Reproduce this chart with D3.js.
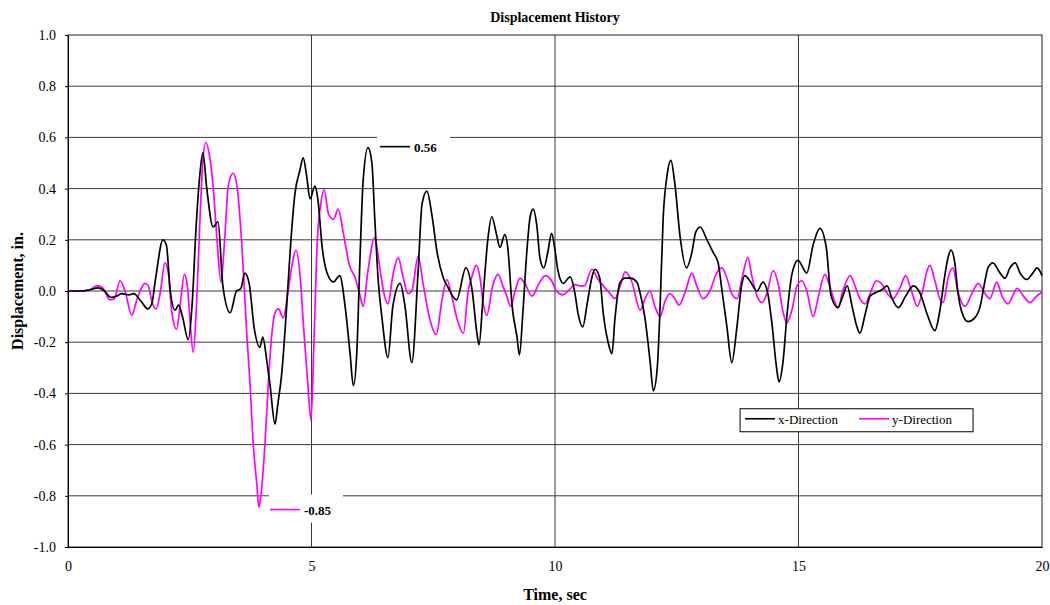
<!DOCTYPE html>
<html>
<head>
<meta charset="utf-8">
<script src="https://cdn.jsdelivr.net/npm/d3@7"></script>
<style>
  body { margin: 0; background: #fff; }
  svg text { font-family: "Liberation Serif", "Times New Roman", serif; }
</style>
</head>
<body>
<svg class="canvas"></svg>
<script>
// x-Direction (black) - time (sec) and displacement (in.)
const xTime = [0, 0.3, 0.45, 0.62, 0.75, 0.88, 1.0, 1.1, 1.25, 1.35, 1.5, 1.64, 1.72, 1.8, 1.95, 2.02, 2.1, 2.2, 2.27, 2.35, 2.47, 2.55, 2.63, 2.71, 2.77, 2.85, 2.98, 3.08, 3.18, 3.33, 3.46, 3.55, 3.63, 3.72, 3.82, 3.94, 4.0, 4.08, 4.15, 4.25, 4.31, 4.39, 4.49, 4.56, 4.66, 4.76, 4.83, 4.9, 4.97, 5.07, 5.13, 5.22, 5.32, 5.45, 5.58, 5.69, 5.79, 5.86, 5.93, 6.0, 6.06, 6.16, 6.24, 6.3, 6.37, 6.45, 6.57, 6.67, 6.82, 6.92, 7.06, 7.19, 7.27, 7.37, 7.47, 7.58, 7.7, 7.8, 7.98, 8.17, 8.3, 8.4, 8.44, 8.52, 8.62, 8.7, 8.8, 8.87, 8.97, 9.03, 9.12, 9.22, 9.27, 9.34, 9.42, 9.49, 9.55, 9.63, 9.69, 9.77, 9.86, 9.93, 10.0, 10.06, 10.17, 10.31, 10.41, 10.47, 10.57, 10.66, 10.76, 10.82, 10.92, 10.99, 11.09, 11.17, 11.23, 11.33, 11.44, 11.55, 11.68, 11.75, 11.85, 11.95, 12.02, 12.1, 12.16, 12.22, 12.3, 12.38, 12.46, 12.57, 12.7, 12.81, 12.89, 12.98, 13.12, 13.25, 13.35, 13.43, 13.53, 13.63, 13.73, 13.83, 13.9, 14.0, 14.15, 14.27, 14.37, 14.45, 14.55, 14.6, 14.68, 14.77, 14.87, 14.99, 15.17, 15.3, 15.44, 15.57, 15.67, 15.81, 15.91, 16.0, 16.1, 16.2, 16.26, 16.37, 16.47, 16.6, 16.71, 16.82, 16.92, 17.05, 17.2, 17.36, 17.5, 17.64, 17.8, 17.9, 18.0, 18.07, 18.13, 18.21, 18.27, 18.35, 18.48, 18.62, 18.73, 18.83, 18.89, 18.99, 19.14, 19.24, 19.34, 19.45, 19.55, 19.69, 19.81, 19.9, 20.0];
const xDisp = [0, 0, 0.005, 0.012, 0, -0.025, -0.02, -0.01, -0.015, -0.01, -0.04, -0.07, -0.05, 0.05, 0.2, 0.18, 0, -0.075, -0.055, -0.1, -0.19, -0.05, 0.25, 0.46, 0.54, 0.4, 0.25, 0.27, 0.02, -0.085, 0, 0.01, 0.07, 0.03, -0.14, -0.22, -0.18, -0.27, -0.37, -0.52, -0.44, -0.32, -0.06, 0.15, 0.38, 0.47, 0.52, 0.45, 0.36, 0.41, 0.36, 0.17, 0.07, 0.035, 0.06, -0.06, -0.24, -0.37, -0.24, 0.15, 0.43, 0.56, 0.5, 0.28, 0.04, -0.11, -0.26, -0.06, 0.03, -0.06, -0.28, 0.08, 0.34, 0.39, 0.3, 0.15, 0.055, 0.015, -0.035, 0.09, 0, -0.17, -0.21, -0.03, 0.2, 0.29, 0.22, 0.17, 0.22, 0.17, -0.06, -0.18, -0.25, -0.085, 0.15, 0.29, 0.32, 0.25, 0.13, 0.09, 0.16, 0.225, 0.16, 0.08, 0.03, 0.055, -0.01, -0.085, -0.14, -0.05, 0.055, 0.085, 0.05, -0.085, -0.2, -0.245, -0.11, 0.03, 0.05, 0.05, 0.035, -0.01, -0.11, -0.27, -0.39, -0.3, -0.05, 0.28, 0.45, 0.51, 0.42, 0.21, 0.09, 0.15, 0.23, 0.25, 0.2, 0.15, 0.11, 0, -0.14, -0.28, -0.15, 0.02, 0.06, 0.04, 0, 0.035, -0.01, -0.12, -0.3, -0.355, -0.28, -0.08, 0.07, 0.12, 0.07, 0.18, 0.245, 0.17, -0.02, -0.065, -0.02, 0.02, -0.06, -0.14, -0.165, -0.09, -0.02, -0.005, 0.005, 0.02, -0.03, -0.065, -0.02, 0.02, -0.01, -0.09, -0.155, -0.08, 0.055, 0.13, 0.16, 0.11, 0, -0.08, -0.12, -0.105, -0.06, 0.04, 0.09, 0.11, 0.07, 0.05, 0.09, 0.11, 0.07, 0.045, 0.07, 0.09, 0.06];

// y-Direction (magenta)
const yTime = [0, 0.3, 0.45, 0.6, 0.7, 0.86, 0.95, 1.07, 1.17, 1.31, 1.42, 1.58, 1.65, 1.72, 1.81, 1.9, 1.99, 2.06, 2.13, 2.23, 2.3, 2.39, 2.45, 2.5, 2.57, 2.64, 2.71, 2.77, 2.83, 2.92, 2.98, 3.06, 3.14, 3.22, 3.29, 3.39, 3.47, 3.57, 3.67, 3.74, 3.8, 3.88, 3.92, 3.96, 4.05, 4.11, 4.19, 4.25, 4.32, 4.42, 4.52, 4.6, 4.68, 4.77, 4.84, 4.92, 4.99, 5.05, 5.12, 5.19, 5.26, 5.35, 5.45, 5.55, 5.65, 5.78, 5.9, 6.0, 6.06, 6.16, 6.3, 6.38, 6.5, 6.57, 6.67, 6.78, 6.88, 6.98, 7.06, 7.19, 7.29, 7.43, 7.56, 7.68, 7.78, 7.88, 7.99, 8.12, 8.21, 8.3, 8.38, 8.47, 8.52, 8.6, 8.72, 8.83, 8.93, 9.0, 9.09, 9.18, 9.28, 9.39, 9.53, 9.66, 9.8, 9.93, 10.03, 10.16, 10.27, 10.41, 10.52, 10.6, 10.76, 10.87, 10.99, 11.13, 11.23, 11.34, 11.44, 11.57, 11.75, 11.85, 11.95, 12.05, 12.16, 12.26, 12.36, 12.46, 12.55, 12.68, 12.81, 12.91, 13.04, 13.18, 13.32, 13.43, 13.53, 13.63, 13.74, 13.84, 13.96, 14.04, 14.15, 14.25, 14.35, 14.48, 14.58, 14.68, 14.76, 14.87, 14.97, 15.07, 15.17, 15.3, 15.4, 15.54, 15.64, 15.74, 15.81, 15.91, 16.06, 16.16, 16.26, 16.37, 16.47, 16.6, 16.7, 16.82, 16.94, 17.08, 17.2, 17.32, 17.44, 17.56, 17.64, 17.7, 17.8, 17.9, 17.97, 18.07, 18.17, 18.27, 18.42, 18.56, 18.69, 18.83, 18.93, 19.07, 19.18, 19.3, 19.49, 19.62, 19.75, 19.89, 20.0];
const yDisp = [0, 0, 0.005, 0.02, 0.015, -0.035, -0.03, 0.04, 0, -0.095, -0.03, 0.03, 0.02, -0.04, -0.07, 0, 0.11, 0.07, -0.08, -0.15, -0.06, 0.065, 0.02, -0.1, -0.24, -0.05, 0.28, 0.51, 0.58, 0.51, 0.41, 0.2, 0.035, 0.21, 0.41, 0.46, 0.41, 0.18, -0.165, -0.37, -0.59, -0.76, -0.845, -0.8, -0.58, -0.37, -0.16, -0.085, -0.07, -0.105, 0, 0.1, 0.16, 0.05, -0.15, -0.35, -0.505, -0.2, 0.2, 0.34, 0.395, 0.3, 0.28, 0.32, 0.23, 0.1, 0.05, -0.02, -0.06, 0.08, 0.21, 0.12, -0.02, -0.05, 0.06, 0.13, 0.055, -0.01, 0, 0.135, 0.03, -0.11, -0.17, -0.035, 0.045, -0.02, -0.11, -0.165, -0.01, 0.06, 0.1, 0.04, -0.04, -0.095, 0.02, 0.065, 0.02, -0.015, -0.06, 0, 0.05, 0.025, -0.02, 0.025, 0.06, 0.04, 0, -0.015, 0, 0.025, 0.02, 0.02, 0.085, 0.05, 0.02, -0.01, -0.03, 0.02, 0.075, 0.04, -0.075, -0.03, 0, -0.06, -0.1, -0.04, -0.01, -0.03, -0.055, 0, 0.07, 0.02, -0.03, 0, 0.07, 0.09, 0.05, -0.01, -0.03, 0.05, 0.13, 0.06, -0.02, -0.045, -0.01, 0.08, 0.03, -0.08, -0.125, -0.07, 0.02, 0.04, 0, -0.1, -0.03, 0.065, 0.02, -0.04, -0.065, 0, 0.06, 0.02, -0.03, -0.05, -0.01, 0.04, 0.03, -0.01, -0.03, 0.01, 0.06, 0, -0.06, 0.01, 0.08, 0.1, 0.04, -0.03, -0.045, 0.05, 0.09, 0, -0.06, -0.01, 0.03, -0.01, -0.03, 0.035, -0.02, -0.05, 0.01, -0.02, -0.045, -0.02, -0.005];

const xTicks = [0, 5, 10, 15, 20];
const yTicks = [-1.0, -0.8, -0.6, -0.4, -0.2, 0.0, 0.2, 0.4, 0.6, 0.8, 1.0];
const seriesNames = ['x-Direction', 'y-Direction'];
const seriesColors = ['#000000', '#ff00ff'];

// peak labels: [time, value]
const maxPeak = [6.16, 0.56];
const minPeak = [3.9, -0.85];

const w = 1050;
const h = 605;
const plotLeft = 68;
const plotRight = 1042;
const plotTop = 35;
const plotBottom = 547;

const svg = d3.select("svg.canvas");

// plain hyphen for negatives, like the original
const fmt = d3.formatLocale({decimal: '.', thousands: ',', grouping: [3], currency: ['$', ''], minus: '-'}).format;

let xScale;
let yScale;

let drawCanvas = () => {
    svg.attr("width", w).attr("height", h);
}

let generateScales = () => {
    xScale = d3.scaleLinear().domain([0, 20]).range([plotLeft, plotRight]);
    yScale = d3.scaleLinear().domain([-1, 1]).range([plotBottom, plotTop]);
}

let drawGrid = () => {
    svg.append('g')
        .selectAll('line')
        .data(yTicks.slice(1, -1))
        .enter()
        .append('line')
        .attr('x1', plotLeft).attr('x2', plotRight)
        .attr('y1', d => yScale(d)).attr('y2', d => yScale(d))
        .attr('stroke', '#3a3a3a')
        .attr('stroke-width', 1);

    svg.append('g')
        .selectAll('line')
        .data(xTicks.slice(1, -1))
        .enter()
        .append('line')
        .attr('x1', d => xScale(d)).attr('x2', d => xScale(d))
        .attr('y1', plotTop).attr('y2', plotBottom)
        .attr('stroke', '#3a3a3a')
        .attr('stroke-width', 1);

    svg.append('rect')
        .attr('x', plotLeft).attr('y', plotTop)
        .attr('width', plotRight - plotLeft).attr('height', plotBottom - plotTop)
        .attr('fill', 'none')
        .attr('stroke', '#222')
        .attr('stroke-width', 1);
}

let drawAxes = () => {
    let xAxis = d3.axisBottom(xScale).tickValues(xTicks).tickSize(0).tickPadding(14).tickFormat(fmt('d'));
    let yAxis = d3.axisLeft(yScale).tickValues(yTicks).tickSize(3).tickPadding(9).tickFormat(fmt('.1f'));

    let gx = svg.append('g')
        .attr('id', 'x-axis')
        .attr('transform', 'translate(0, ' + plotBottom + ')')
        .call(xAxis);
    let gy = svg.append('g')
        .attr('id', 'y-axis')
        .attr('transform', 'translate(' + plotLeft + ', 0)')
        .call(yAxis);

    [gx, gy].forEach(g => {
        g.select('.domain').attr('stroke', '#000');
        g.selectAll('.tick line').attr('stroke', '#000');
        g.selectAll('text')
            .attr('fill', '#000')
            .style('font-family', '"Liberation Serif", serif')
            .style('font-size', '14px');
    });

    svg.append('text')
        .attr('x', (plotLeft + plotRight) / 2).attr('y', 22)
        .attr('text-anchor', 'middle')
        .style('font-size', '14px').style('font-weight', 'bold')
        .text('Displacement History');

    svg.append('text')
        .attr('x', (plotLeft + plotRight) / 2).attr('y', 600)
        .attr('text-anchor', 'middle')
        .style('font-size', '16px').style('font-weight', 'bold')
        .text('Time, sec');

    svg.append('text')
        .attr('transform', 'translate(23, ' + (plotTop + plotBottom) / 2 + ') rotate(-90)')
        .attr('text-anchor', 'middle')
        .style('font-size', '16px').style('font-weight', 'bold')
        .text('Displacement, in.');
}

let drawPeakBoxes = () => {
    // white label areas that cut the gridlines
    let hi = [xScale(maxPeak[0]), yScale(maxPeak[1])];
    svg.append('rect')
        .attr('x', hi[0] + 9).attr('y', hi[1] - 14)
        .attr('width', 73).attr('height', 28)
        .attr('fill', '#fff');

    let lo = [xScale(minPeak[0]), yScale(minPeak[1])];
    svg.append('rect')
        .attr('x', lo[0] + 11).attr('y', lo[1] - 14)
        .attr('width', 74).attr('height', 28)
        .attr('fill', '#fff');
}

let drawLines = () => {
    let line = d3.line()
        .x(d => xScale(d[0]))
        .y(d => yScale(d[1]))
        .curve(d3.curveMonotoneX);

    let series = [d3.zip(xTime, xDisp), d3.zip(yTime, yDisp)];

    // magenta drawn first so the black sits on top where they cross
    [1, 0].forEach(i => {
        svg.append('path')
            .datum(series[i])
            .attr('d', line)
            .attr('fill', 'none')
            .attr('stroke', seriesColors[i])
            .attr('stroke-width', 1.7)
            .attr('stroke-linejoin', 'round');
    });
}

let drawPeakLabels = () => {
    let hi = [xScale(maxPeak[0]), yScale(maxPeak[1])];
    svg.append('line')
        .attr('x1', hi[0] + 12).attr('x2', hi[0] + 42)
        .attr('y1', hi[1] - 1).attr('y2', hi[1] - 1)
        .attr('stroke', seriesColors[0]).attr('stroke-width', 1.6);
    svg.append('text')
        .attr('x', hi[0] + 46).attr('y', hi[1] + 4)
        .style('font-size', '13px').style('font-weight', 'bold')
        .text(fmt('.2f')(maxPeak[1]));

    let lo = [xScale(minPeak[0]), yScale(minPeak[1])];
    svg.append('line')
        .attr('x1', lo[0] + 12).attr('x2', lo[0] + 42)
        .attr('y1', lo[1] + 1).attr('y2', lo[1] + 1)
        .attr('stroke', seriesColors[1]).attr('stroke-width', 1.6);
    svg.append('text')
        .attr('x', lo[0] + 46).attr('y', lo[1] + 6)
        .style('font-size', '13px').style('font-weight', 'bold')
        .text(fmt('.2f')(minPeak[1]));
}

let drawLegend = () => {
    let lx = xScale(13.8);
    let ly = yScale(-0.46);
    let g = svg.append('g').attr('transform', 'translate(' + lx + ', ' + ly + ')');

    g.append('rect')
        .attr('x', 0).attr('y', 0)
        .attr('width', 233).attr('height', 23)
        .attr('fill', '#fff')
        .attr('stroke', '#000').attr('stroke-width', 1);

    seriesNames.forEach((name, i) => {
        let ox = 5 + i * 114;
        g.append('line')
            .attr('x1', ox).attr('x2', ox + 30)
            .attr('y1', 10).attr('y2', 10)
            .attr('stroke', seriesColors[i]).attr('stroke-width', 1.6);
        g.append('text')
            .attr('x', ox + 33).attr('y', 15)
            .style('font-size', '13px')
            .text(name);
    });
}

drawCanvas();
generateScales();
drawGrid();
drawAxes();
drawPeakBoxes();
drawLines();
drawPeakLabels();
drawLegend();
</script>
</body>
</html>
